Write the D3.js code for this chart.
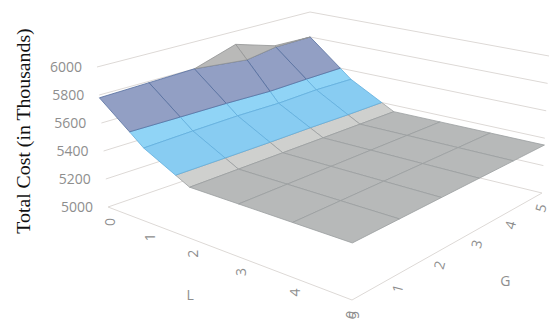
<!DOCTYPE html>
<html>
<head>
<meta charset="utf-8">
<script src="https://cdn.jsdelivr.net/npm/d3@7"></script>
<style>
  html, body { margin: 0; background: #fff; }
</style>
</head>
<body>
<div id="chart"></div>
<script>
const lTicks = [0, 1, 2, 3, 4, 5]
const gTicks = [0, 1, 2, 3, 4, 5]
const zTicks = [5000, 5200, 5400, 5600, 5800, 6000]

// total cost, one array per L, one value per G
const costL0 = [5780, 5790, 5800, 5900, 5808, 5800]
const costL1 = [5517, 5525, 5530, 5525, 5535, 5530]
const costL2 = [5350, 5350, 5350, 5350, 5350, 5350]
const costL3 = [5350, 5350, 5350, 5350, 5350, 5350]
const costL4 = [5350, 5350, 5350, 5350, 5350, 5350]
const costL5 = [5350, 5350, 5350, 5350, 5350, 5350]
const cost = [costL0, costL1, costL2, costL3, costL4, costL5]

const bandEdges = [5000, 5400, 5600, 5800, 6000]
// flat / steep face colour and line colour for each band
const bandFlat = ['#b7b9b9', '#62a8de', '#8a98ba', '#b0b1b1']
const bandSteep = ['#d4d5d3', '#90d4f6', '#929fc4', '#b9b9b8']
const bandLine = ['#9b9e9f', '#62afdd', '#566f9e', '#939494']

const width = 549
const height = 320

// corners of the floor and of the 6000 plane, order: L0G0, L5G0, L5G5, L0G5
const floorQuad = [[108, 207], [352, 300], [542, 193], [311, 137]]
const topQuad = [[97, 67], [353, 137], [549, 56], [310, 12]]

// unit square -> quad perspective mapping
function homography(q) {
  const [[x0, y0], [x1, y1], [x2, y2], [x3, y3]] = q
  const dx1 = x1 - x2, dx2 = x3 - x2, sx = x0 - x1 + x2 - x3
  const dy1 = y1 - y2, dy2 = y3 - y2, sy = y0 - y1 + y2 - y3
  const den = dx1 * dy2 - dx2 * dy1
  const g = (sx * dy2 - dx2 * sy) / den
  const h = (dx1 * sy - sx * dy1) / den
  const a = x1 - x0 + g * x1, b = x3 - x0 + h * x3
  const d = y1 - y0 + g * y1, e = y3 - y0 + h * y3
  return (u, v) => {
    const w = g * u + h * v + 1
    return [(a * u + b * v + x0) / w, (d * u + e * v + y0) / w]
  }
}

const uScale = d3.scaleLinear().domain([0, 5]).range([0, 1])
const vScale = d3.scaleLinear().domain([0, 5]).range([0, 1])
const zScale = d3.scaleLinear().domain([5000, 6000]).range([0, 1])
const steepScale = d3.scaleLinear().domain([0, 263]).range([0, 1]).clamp(true)

const floorAt = homography(floorQuad)
const topAt = homography(topQuad)

function project(l, g, z) {
  const u = uScale(l), v = vScale(g), t = zScale(z)
  return d3.interpolateArray(floorAt(u, v), topAt(u, v))(t)
}

// keep the part of a polygon on one side of a cost level
function clipAbove(poly, level, sign) {
  const out = []
  poly.forEach((p, i) => {
    const q = poly[(i + 1) % poly.length]
    const pIn = sign * (p.z - level) >= 0
    const qIn = sign * (q.z - level) >= 0
    if (pIn) out.push(p)
    if (pIn !== qIn) {
      const f = (level - p.z) / (q.z - p.z)
      out.push({ l: p.l + f * (q.l - p.l), g: p.g + f * (q.g - p.g), z: level })
    }
  })
  return out
}

const svg = d3.select('#chart').append('svg')
  .attr('width', width)
  .attr('height', height)
  .attr('viewBox', `0 0 ${width} ${height}`)
  .style('display', 'block')

svg.append('defs').append('filter').attr('id', 'soft')
  .append('feGaussianBlur').attr('stdDeviation', 0.45)

const view = svg.append('g').attr('filter', 'url(#soft)')
const line = d3.line()

// walls and floor edges
const walls = view.append('g').attr('fill', 'none').attr('stroke', '#ddd9d6').attr('stroke-width', 1)
zTicks.forEach(z => {
  walls.append('path').attr('d', line([project(0, 0, z), project(0, 5, z), project(5, 5, z)]))
})
walls.append('path').attr('d', line([project(0, 0, 5000), project(5, 0, 5000), project(5, 5, 5000)]))

// surface, back cells first
const surface = view.append('g').attr('stroke-width', 0.8).attr('stroke-linejoin', 'round')
d3.range(lTicks.length - 1).forEach(i => {
  d3.range(gTicks.length - 2, -1, -1).forEach(j => {
    const cell = [
      { l: lTicks[i], g: gTicks[j], z: cost[i][j] },
      { l: lTicks[i], g: gTicks[j + 1], z: cost[i][j + 1] },
      { l: lTicks[i + 1], g: gTicks[j + 1], z: cost[i + 1][j + 1] },
      { l: lTicks[i + 1], g: gTicks[j], z: cost[i + 1][j] }
    ]
    const slope = Math.abs(d3.mean(cost[i]) - d3.mean(cost[i + 1]))
    const t = steepScale(slope)
    d3.range(bandEdges.length - 1).forEach(b => {
      const poly = clipAbove(clipAbove(cell, bandEdges[b], 1), bandEdges[b + 1], -1)
      if (poly.length < 3) return
      surface.append('path')
        .attr('d', line(poly.map(p => project(p.l, p.g, p.z))) + 'Z')
        .attr('fill', d3.interpolateRgb(bandFlat[b], bandSteep[b])(Math.sqrt(t)))
        .attr('stroke', bandLine[b])
    })
  })
})

// labels
const labels = svg.append('g')
  .attr('font-family', '"Open Sans", sans-serif')
  .attr('font-size', 14)
  .attr('fill', '#8e8e8e')

zTicks.forEach(z => {
  const [x, y] = project(0, 0, z)
  labels.append('text')
    .attr('x', x - 15)
    .attr('y', y)
    .attr('dy', '0.35em')
    .attr('text-anchor', 'end')
    .text(z)
})

lTicks.forEach(l => {
  const [x, y] = project(l, 0, 5000)
  labels.append('text')
    .attr('transform', `translate(${x + 2},${y + 15}) rotate(-90)`)
    .attr('dy', '0.35em')
    .attr('text-anchor', 'middle')
    .text(l)
})

gTicks.forEach(g => {
  const [x, y] = project(5, g, 5000)
  labels.append('text')
    .attr('transform', `translate(${x - 1},${y + 15}) rotate(-75)`)
    .attr('dy', '0.35em')
    .attr('text-anchor', 'middle')
    .text(g)
})

const lMid = project(2.4, 0, 5000)
labels.append('text')
  .attr('x', lMid[0] - 20).attr('y', lMid[1] + 54)
  .attr('text-anchor', 'middle').text('L')

const gMid = project(5, 2.6, 5000)
labels.append('text')
  .attr('x', gMid[0] + 42).attr('y', gMid[1] + 49)
  .attr('text-anchor', 'middle').text('G')

svg.append('text')
  .attr('transform', 'translate(30,131) rotate(-90)')
  .attr('text-anchor', 'middle')
  .attr('font-family', '"Liberation Serif", serif')
  .attr('font-size', 19.8)
  .attr('fill', '#111')
  .text('Total Cost (in Thousands)')
</script>
</body>
</html>
